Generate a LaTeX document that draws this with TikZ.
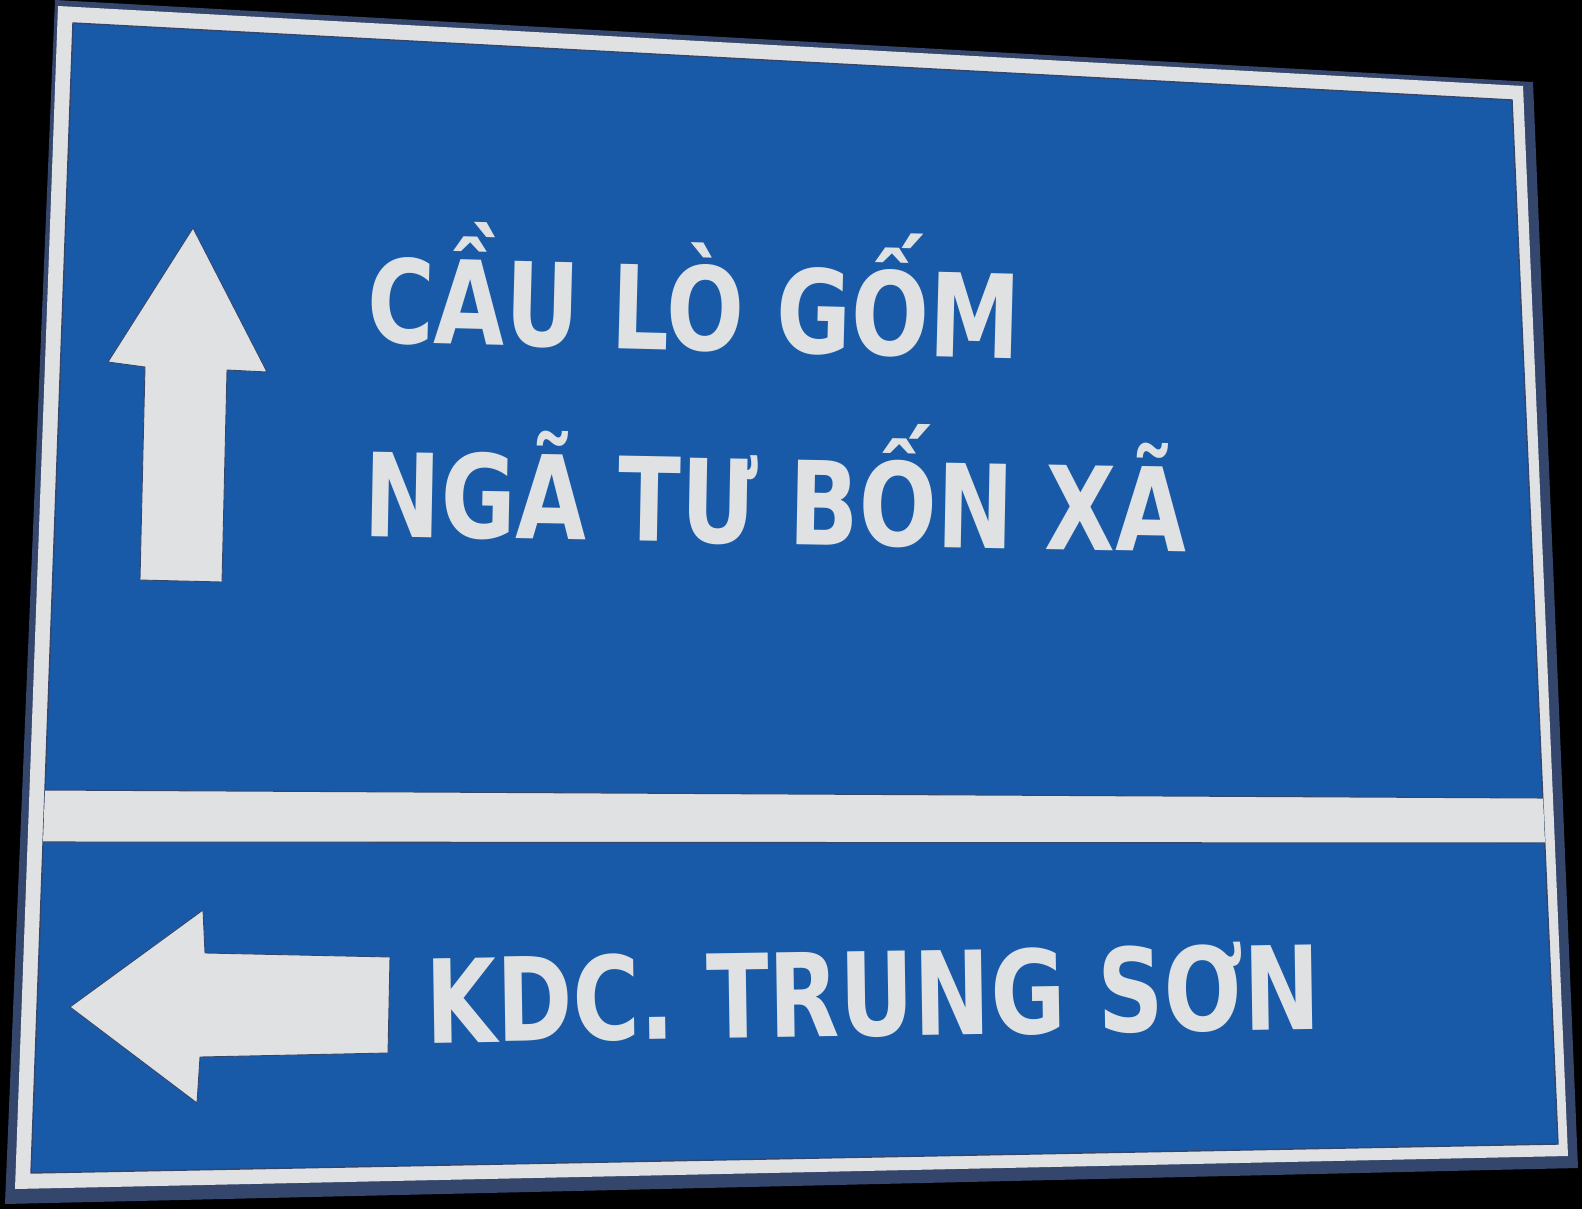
\documentclass[tikz,border=0pt]{standalone}
\usepackage{fontspec}
\newfontfamily\signfont[FakeStretch=0.79]{DejaVu Sans}
\definecolor{signblue}{RGB}{24,90,168}
\definecolor{signwhite}{RGB}{224,225,226}
\definecolor{signedge}{RGB}{52,70,108}
\begin{document}
\begin{tikzpicture}[x=0.02cm, y=-0.02cm,
		stripe/.style={fill=signwhite, draw=signedge, line width=0.5pt},
		legend/.style={text=signwhite, font=\signfont\bfseries\fontsize{66}{66}\selectfont, anchor=base west, inner sep=0pt}]
		\useasboundingbox (0,0) rectangle (1582,1209);
		\fill [black] (0,0) rectangle (1582,1209);

		% plate, border and panel
		\fill [signedge] (55,0) -- (1533,82) -- (1578,1168) -- (5,1204) -- cycle;
		\fill [signwhite] (58,6) -- (1523,86) -- (1568,1156) -- (15,1189) -- cycle;
		\filldraw [fill=signblue, draw=signedge, line width=0.8pt] (73,23) -- (1512,100) -- (1558,1144) -- (31,1173) -- cycle;

		% divider
		\fill [signwhite] (45,790) -- (1543,798) -- (1545,843) -- (43,842) -- cycle;
		\draw [signedge, line width=0.6pt] (45,790) -- (1543,798);
		\draw [signedge, line width=0.6pt] (43,842) -- (1545,843);

		% arrows
		\filldraw [stripe] (193,228) -- (267,372) -- (227,370) -- (222,582) -- (140,580) -- (145,367) -- (108,362) -- cycle;
		\filldraw [stripe] (70,1007) -- (203,910) -- (205,953) -- (390,957) -- (388,1053) -- (200,1057) -- (197,1103) -- cycle;

		\node (cau) [legend, rotate=-1.5] at (366,342) {CẦU LÒ GỐM};
		\node (nga) [legend, rotate=-1.1] at (363,536) {NGÃ TƯ BỐN XÃ};
		\node (kdc) [legend, rotate=0.9] at (426,1043) {KDC. TRUNG SƠN};

	\end{tikzpicture}
\end{document}
